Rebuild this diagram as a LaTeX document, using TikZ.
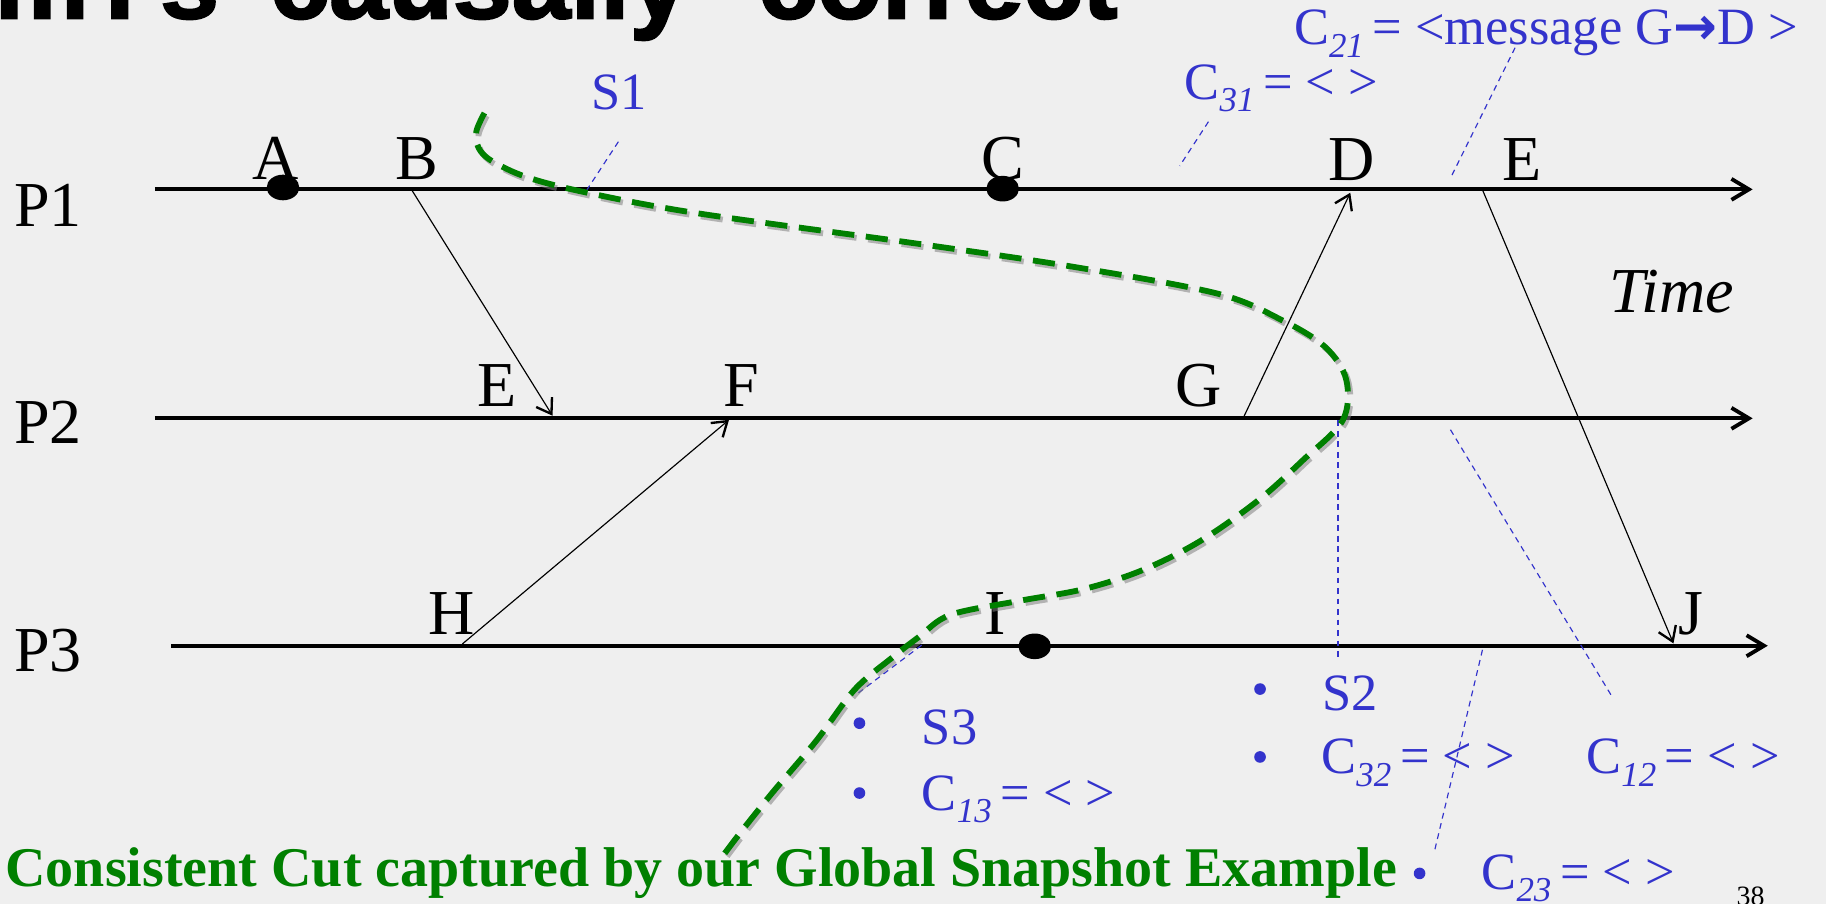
\documentclass[tikz,border=0pt]{standalone}
\usepackage{fontspec}
\setmainfont{Liberation Serif}
\newfontfamily\titlefont[FakeBold=2]{Liberation Sans}
\newfontfamily\djv{DejaVu Sans}
\usetikzlibrary{arrows.meta,shapes.geometric}
\definecolor{bgc}{RGB}{239,239,239}
\definecolor{snapblue}{RGB}{51,51,204}
\definecolor{cutgreen}{RGB}{0,128,0}
\newcommand\sbx[1]{\raisebox{-10.5pt}{\fontsize{30}{30}\selectfont\itshape #1}\,}
\begin{document}
\begin{tikzpicture}[x=1pt,y=-1pt,
  proc/.style={line width=3.3pt,-{Straight Barb[length=15pt,width=18pt]}},
  msg/.style={line width=1pt,-{Straight Barb[length=12pt,width=16pt,line width=2pt]}},
  ev/.style={anchor=base west,inner sep=0pt,font=\fontsize{55}{60}\selectfont},
  lbl/.style={anchor=base west,inner sep=0pt,text=snapblue,font=\fontsize{45}{50}\selectfont},
  bul/.style={circle,fill=snapblue,inner sep=0pt,minimum size=10pt},
  ptr/.style={snapblue,line width=1pt,dash pattern=on 5pt off 4pt},
  evdot/.style={ellipse,fill=black,inner sep=0pt,minimum width=28pt,minimum height=22pt},
  cut/.style={line width=5pt,dash pattern=on 19pt off 10pt}
]
\fill[bgc] (0,0) rectangle (1568,776);
\useasboundingbox (0,0) rectangle (1568,776);

% title (cut off at the top)
\node[anchor=base west,inner sep=0pt,font=\titlefont\bfseries\fontsize{91}{91}\selectfont] (title) at (-4.8,15.7)
  {m\hspace{-11.3pt} I\hspace{22pt}s\hspace{18.7pt} causally\hspace{34.7pt} correct};

% process lines
\coordinate (p1s) at (133,162.6); \coordinate (p1e) at (1505,162.6);
\coordinate (p2s) at (133,359.2); \coordinate (p2e) at (1505,359.2);
\coordinate (p3s) at (147,554.5); \coordinate (p3e) at (1518,554.5);
\draw[proc] (p1s) -- (p1e);
\draw[proc] (p2s) -- (p2e);
\draw[proc] (p3s) -- (p3e);

% message end points
\coordinate (mB) at (353.5,163);   \coordinate (mE2) at (474.5,357);
\coordinate (mH) at (397,553);     \coordinate (mF) at (626,360.5);
\coordinate (mG) at (1068,358);    \coordinate (mD) at (1159.5,165.5);
\coordinate (mE1) at (1273,163);   \coordinate (mJ) at (1437,552.5);
\draw[msg] (mB) -- (mE2);
\draw[msg] (mH) -- (mF);
\draw[msg] (mG) -- (mD);
\draw[msg] (mE1) -- (mJ);

% event dots
\node[evdot] (dA) at (243,161) {};
\node[evdot] (dC) at (861,162) {};
\node[evdot] (dI) at (888.5,555) {};

% process and event labels
\node[ev] (lP1) at (12,194.6) {P1};
\node[ev] (lP2) at (12,381) {P2};
\node[ev] (lP3) at (12,577) {P3};
\node[ev] (tA) at (217,154) {A};
\node[ev] (tB) at (339,154) {B};
\node[ev] (tC) at (843,154) {C};
\node[ev] (tD) at (1141,154.6) {D};
\node[ev] (tE1) at (1290,154.6) {E};
\node[ev] (tE2) at (410,349) {E};
\node[ev] (tF) at (621,349) {F};
\node[ev] (tG) at (1009,349) {G};
\node[ev] (tH) at (368,545) {H};
\node[ev] (tI) at (845,545) {I};
\node[ev] (tJ) at (1441,545) {J};
\node[ev,font=\fontsize{55}{60}\selectfont\itshape] (time) at (1382,268.5) {Time};

% blue pointer lines
\coordinate (s1a) at (531,121.7);   \coordinate (s1b) at (504,163);
\coordinate (c31a) at (1037.7,104.5); \coordinate (c31b) at (1013,142.5);
\coordinate (c21a) at (1301,41);    \coordinate (c21b) at (1245.5,153);
\coordinate (s2a) at (1149,361);    \coordinate (s2b) at (1149,565);
\coordinate (c12a) at (1245.5,369); \coordinate (c12b) at (1383.4,596.8);
\coordinate (c23a) at (1273,558);   \coordinate (c23b) at (1232,730);
\coordinate (s3a) at (791.4,554);   \coordinate (s3b) at (736.6,595.4);
\draw[ptr] (s1a) -- (s1b);
\draw[ptr] (c31a) -- (c31b);
\draw[ptr] (c21a) -- (c21b);
\draw[ptr] (s2a) -- (s2b);
\draw[ptr] (c12a) -- (c12b);
\draw[ptr] (c23a) -- (c23b);
\draw[ptr] (s3a) -- (s3b);

% blue labels
\node[lbl] (s1) at (508,94) {S1};
\node[lbl] (c31) at (1017,85.3) {C\sbx{31}= < >};
\node[lbl] (c21) at (1111,38.6) {C\sbx{21}= <message G{\djv\bfseries →}D >};
\node[bul] (b1) at (738,621) {};
\node[lbl] (s3) at (791.5,639.7) {S3};
\node[bul] (b2) at (738,681) {};
\node[lbl] (c13) at (791.5,695.6) {C\sbx{13}= < >};
\node[bul] (b3) at (1082,591.7) {};
\node[lbl] (s2) at (1135.5,609.7) {S2};
\node[bul] (b4) at (1082,650) {};
\node[lbl] (c32) at (1134.5,664.6) {C\sbx{32}= < >};
\node[lbl] (c12) at (1362,664.6) {C\sbx{12}= < >};
\node[bul] (b5) at (1219,750) {};
\node[lbl] (c23) at (1272,763.5) {C\sbx{23}= < >};

% caption and page number
\node[anchor=base west,inner sep=0pt,text=cutgreen,font=\bfseries\fontsize{48.1}{50}\selectfont] (caption) at (4.5,761.4)
  {Consistent Cut captured by our Global Snapshot Example};
\node[anchor=base west,inner sep=0pt,font=\fontsize{24}{26}\selectfont] (pg) at (1491,777.6) {38};

% consistent cut curve (shadow, then green)
\def\cutpts{(416,97) (409,113) (411,127) (422,138) (452,152) (502,165) (598,183) (786,209) (921,229) (1045,252) (1101,275) (1138,298) (1156,326) (1153,361) (1119,395) (1080,430) (1030,465) (980,490) (930,506) (875,516) (816,528) (789,547) (767,564) (734,592) (701,636) (663,681) (635,716) (617,740)}
\draw[cut,gray,opacity=0.55,shift={(2,2.5)}] plot[smooth,tension=0.55] coordinates {\cutpts};
\draw[cut,cutgreen] plot[smooth,tension=0.55] coordinates {\cutpts};
\end{tikzpicture}
\end{document}
